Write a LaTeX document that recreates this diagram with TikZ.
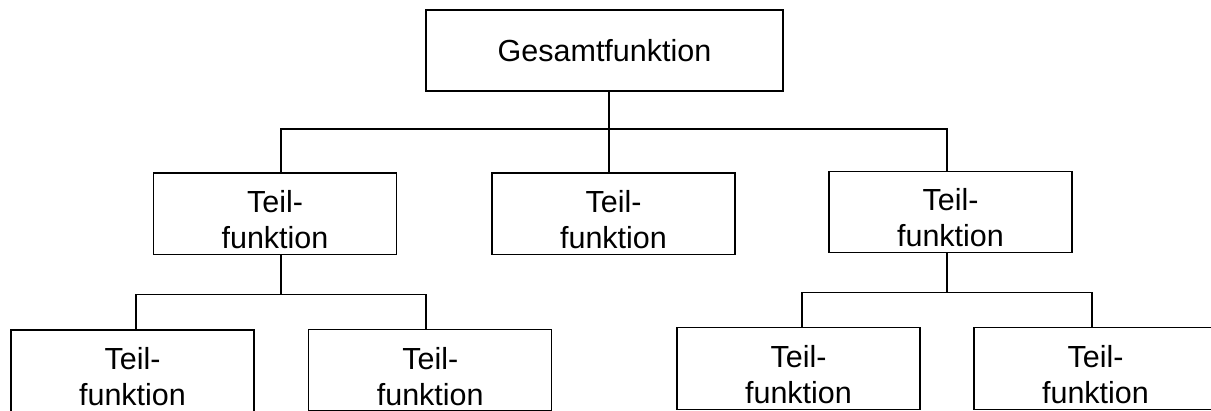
\documentclass[tikz,border=0pt]{standalone}
\usepackage{fontspec}
\setmainfont{Liberation Sans}
\begin{document}
\begin{tikzpicture}[x=1pt,y=-1pt,
  fbox/.style={draw, line width=1.1pt, minimum width=243pt, minimum height=81.5pt,
    inner sep=0pt, align=center, font=\fontsize{30.5}{36}\selectfont},
  conn/.style={line width=1.1pt}]
\useasboundingbox (0,0) rectangle (1211,410);
% nodes
\node[fbox, minimum width=357pt, minimum height=81pt] (top) at (604.5,50.5) {Gesamtfunktion};
\node[fbox] (L)  at (275,213.75)   {\rule{0pt}{34pt}Teil-\\funktion};
\node[fbox] (C)  at (613.5,213.7)  {\rule{0pt}{34pt}Teil-\\funktion};
\node[fbox] (R)  at (950.5,212)    {\rule{0pt}{34pt}Teil-\\funktion};
\node[fbox] (LL) at (132.5,370.75) {\rule{0pt}{34pt}Teil-\\funktion};
\node[fbox] (LR) at (430.25,370.25){\rule{0pt}{34pt}Teil-\\funktion};
\node[fbox] (RL) at (798.5,368.5)  {\rule{0pt}{34pt}Teil-\\funktion};
\node[fbox] (RR) at (1095.5,368.5) {\rule{0pt}{34pt}Teil-\\funktion};
% junctions
\coordinate (j0) at (609,129);
\coordinate (b1) at (281,294.5);
\coordinate (b2) at (947,292.5);
% connectors
\draw[conn] ([xshift=4.5pt]top.south) -- (j0);
\draw[conn] ([xshift=6pt]L.north) |- (j0) -| ([xshift=-3.5pt]R.north);
\draw[conn] (j0) -- ([xshift=-4.5pt]C.north);
\draw[conn] ([xshift=6pt]L.south) -- (b1);
\draw[conn] ([xshift=3.5pt]LL.north) |- (b1) -| ([xshift=-4.25pt]LR.north);
\draw[conn] ([xshift=-3.5pt]R.south) -- (b2);
\draw[conn] ([xshift=3.5pt]RL.north) |- (b2) -| ([xshift=-3.5pt]RR.north);
\end{tikzpicture}
\end{document}
